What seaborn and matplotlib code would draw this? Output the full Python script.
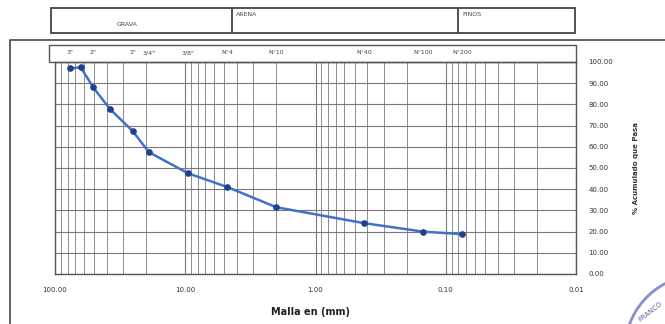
import matplotlib
matplotlib.use("Agg")
import matplotlib.pyplot as plt
import matplotlib.transforms as mtransforms
from matplotlib.patches import Rectangle, Arc
from matplotlib.lines import Line2D
import numpy as np
import pandas as pd
import seaborn as sns

# granulometria (malla en mm vs % que pasa)
malla_mm = [76.2, 63.5, 50.8, 38.1, 25.4, 19.05, 9.525, 4.75, 2.0, 0.425, 0.15, 0.075]
pasa = [97.0, 97.5, 88.0, 78.0, 67.5, 57.5, 47.5, 41.0, 31.5, 24.0, 20.0, 18.8]

tamiz_mm = [76.2, 50.8, 25.4, 19.05, 9.525, 4.75, 2.0, 0.425, 0.15, 0.075]
tamiz_lbl = ['3"', '2"', '1"', '3/4"', '3/8"', 'N°4', 'N°10', 'N°40', 'N°100', 'N°200']

x_ticks = [100, 10, 1, 0.1, 0.01]
y_ticks = list(range(0, 101, 10))

df = pd.DataFrame({"malla": malla_mm, "pasa": pasa})

sns.set_style("white")
W, H = 665, 324
fig = plt.figure(figsize=(W / 100, H / 100), dpi=100)
ax = fig.add_axes([55 / W, 1 - 274 / H, 521 / W, 212 / H])

sns.lineplot(data=df, x="malla", y="pasa", ax=ax, color="#3f73c9", lw=1.8,
             marker="o", markersize=4, markerfacecolor="#1f3f8f",
             markeredgecolor="#1f3f8f", zorder=5)

ax.set_xscale("log")
ax.set_xlim(100, 0.01)
ax.set_ylim(0, 100)
ax.set_xticks(x_ticks)
ax.set_xticklabels([f"{v:.2f}" for v in x_ticks])
ax.set_yticks(y_ticks)
ax.set_yticklabels([f"{v:.2f}" for v in y_ticks])
ax.yaxis.tick_right()
ax.tick_params(axis="both", length=0, labelsize=5, colors="#333333")
ax.tick_params(axis="y", pad=9)
ax.tick_params(axis="x", pad=9)
for lab in ax.get_yticklabels():
    lab.set_horizontalalignment("left")

ax.grid(True, which="major", axis="both", color="#7a7a7a", lw=0.8)
ax.grid(True, which="minor", axis="x", color="#8c8c8c", lw=0.7)
for s in ax.spines.values():
    s.set_color("#555555")
    s.set_linewidth(1.0)

ax.set_xlabel("Malla en (mm)", fontsize=7, fontweight="bold", color="#222222")
ax.xaxis.set_label_coords(0.49, -0.155)
ax.set_ylabel("")
fig.text(636 / W, 1 - 168 / H, "% Acumulado que Pasa", rotation=90, ha="center",
         va="center", fontsize=5, fontweight="bold", color="#333333")

# banda de tamices sobre el grafico
ax.add_patch(Rectangle((-0.012, 1.0), 1.012, 17 / 212, transform=ax.transAxes,
                       fill=False, ec="#555555", lw=1.0, clip_on=False))
trans = mtransforms.blended_transform_factory(ax.transData, ax.transAxes)
for t, lab in zip(tamiz_mm, tamiz_lbl):
    ax.text(t, 1 + 9 / 212, lab, transform=trans, ha="center", va="center",
            fontsize=4.5, color="#444444")

# cuadro de clasificacion
hx0, hx1, hy0, hy1 = 51, 575, 8, 33
fig.patches.append(Rectangle((hx0 / W, 1 - hy1 / H), (hx1 - hx0) / W, (hy1 - hy0) / H,
                             transform=fig.transFigure, fill=False, ec="#444444", lw=1.3))
for xd in [232, 458]:
    fig.lines.append(Line2D([xd / W, xd / W], [1 - hy1 / H, 1 - hy0 / H],
                            transform=fig.transFigure, color="#444444", lw=1.3))
fig.text(127 / W, 1 - 24 / H, "GRAVA", ha="center", va="center", fontsize=4.5, color="#444444")
fig.text(236 / W, 1 - 15 / H, "ARENA", ha="left", va="center", fontsize=4.5, color="#444444")
fig.text(462 / W, 1 - 14 / H, "FINOS", ha="left", va="center", fontsize=4.5, color="#444444")

# marco exterior
fig.lines.append(Line2D([10 / W, 10 / W, 1.0], [0.0, 1 - 40 / H, 1 - 40 / H],
                        transform=fig.transFigure, color="#555555", lw=1.3))

# sello
fig.patches.append(Arc((700 / W, 1 - 350 / H), 150 / W, 150 / H, theta1=100, theta2=170,
                       transform=fig.transFigure, color="#3b3fb0", lw=2.0, alpha=0.6))
fig.text(650 / W, 1 - 312 / H, "FRANCO", rotation=38, ha="center", va="center",
         fontsize=5, color="#3a3a8a", alpha=0.8)

fig.savefig("out.png", dpi=100)
